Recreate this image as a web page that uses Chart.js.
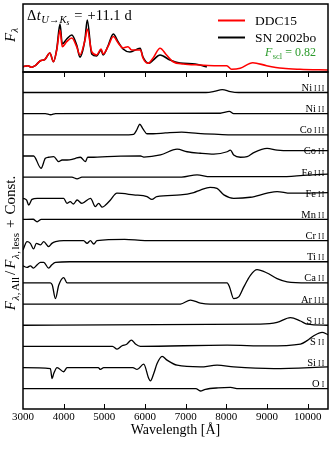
<!DOCTYPE html>
<html>
<head>
<meta charset="utf-8">
<script src="https://cdn.jsdelivr.net/npm/chart.js@4.4.0/dist/chart.umd.min.js"></script>
<style>
  html, body { margin: 0; padding: 0; background: #fff; }
  #wrap { position: relative; width: 332px; height: 450px; }
  canvas { position: absolute; left: 0; top: 0; }
</style>
</head>
<body>
<div id="wrap">
  <canvas id="bottomChart" width="332" height="450"></canvas>
  <canvas id="topChart" width="332" height="450"></canvas>
</div>
<script>
'use strict';

// x axis ticks
const waveTicks = [3000, 4000, 5000, 6000, 7000, 8000, 9000, 10000];

// top panel: model DDC15 vs observed SN 2002bo (arbitrary flux units)
const ddcWave = [3000, 3120, 3210, 3300, 3420, 3540, 3660, 3750, 3830, 3910, 3965, 4075, 4200, 4320, 4400, 4525, 4580, 4690, 4810, 4920, 4970, 5090, 5220, 5340, 5460, 5580, 5670, 5890, 5950, 6070, 6200, 6370, 6530, 6690, 6940, 7350, 7760, 8010, 8130, 8340, 8650, 8990, 9390, 9810, 10500];
const ddcFlux = [5.3, 6.3, 4.7, 6.3, 11, 12.7, 19, 10.3, 22, 42, 25.3, 30.3, 34, 25.3, 17, 32, 43, 20.3, 17, 23, 18, 25.3, 35.5, 29, 24, 25.3, 22, 22, 14, 8.7, 14, 23.7, 17, 10.3, 8, 7, 6.3, 6.3, 2.7, 3.7, 9.3, 6.3, 3.7, 2.7, 2];
const obsWave = [3000, 3120, 3210, 3300, 3420, 3540, 3660, 3750, 3830, 3910, 3965, 4075, 4200, 4320, 4400, 4525, 4580, 4690, 4810, 4920, 4970, 5090, 5220, 5340, 5460, 5630, 5880, 5950, 6100, 6200, 6370, 6615, 6860, 7230, 7400, 7520];
const obsFlux = [5.3, 6.3, 4.7, 6.3, 11, 12.7, 19, 10.3, 23, 48, 28, 33, 37, 27, 15, 33, 52, 18, 16, 22, 17, 26, 38, 30, 23, 20, 23.7, 15, 8.7, 12, 17, 12, 9, 8, 6.5, 5];

// bottom panel: F_all / F_less ratio for each ion, top to bottom
const ionElem  = ['Ni', 'Ni', 'Co', 'Co', 'Fe', 'Fe', 'Mn', 'Cr', 'Ti', 'Ca', 'Ar', 'S', 'S', 'Si', 'O'];
const ionStage = ['III', 'II', 'III', 'II', 'III', 'II', 'II', 'II', 'II', 'II', 'III', 'III', 'II', 'II', 'I'];
const ionConst = [14, 13, 12, 11, 10, 9, 8, 7, 6, 5, 4, 3, 2, 1, 0];

const niIIIWave = [3000, 7500, 7700, 7900, 8100, 8300, 10500];
const niIIIRatio = [1, 1, 1.05, 1.14, 1.04, 1, 1];
const niIIWave = [3000, 3550, 3680, 3800, 7850, 8000, 8075, 8180, 10500];
const niIIRatio = [1, 1, 0.95, 1, 1.02, 1.08, 1.11, 1, 1];
const coIIIWave = [3000, 5600, 5720, 5800, 5870, 5950, 6050, 6200, 6500, 6900, 7300, 7700, 8100, 10500];
const coIIIRatio = [1, 1, 1.02, 1.24, 1.5, 1.28, 1.05, 1.05, 1.09, 1.13, 1.07, 1.03, 1, 1];
const coIIWave = [3000, 3260, 3444, 3550, 3630, 3755, 3878, 3960, 4084, 4207, 4290, 4410, 4534, 4590, 4740, 5070, 5400, 5890, 5970, 6380, 6790, 7035, 7360, 7690, 8020, 8100, 8181, 8345, 8511, 8673, 9002, 9248, 9575, 9986, 10500];
const coIIRatio = [1, 1, 0.42, 0.89, 0.94, 0.97, 0.73, 0.81, 0.81, 0.84, 0.89, 0.94, 0.73, 0.94, 0.94, 0.97, 0.99, 1, 0.95, 1.05, 1.32, 1.2, 1.13, 1.09, 1.2, 1.28, 1.05, 0.94, 0.97, 1.16, 1.36, 1.28, 1.25, 1.25, 1.25];
const feIIIWave = [3000, 4200, 4330, 4450, 6900, 7280, 7600, 9300, 10000, 10500];
const feIIIRatio = [1, 1, 0.92, 1, 1, 1.11, 1.02, 1.02, 1.1, 1.14];
const feIIWave = [3000, 3090, 3140, 3220, 3350, 4000, 4080, 4160, 4240, 4330, 4450, 4660, 4780, 4860, 4950, 5030, 5150, 5310, 5720, 6050, 6170, 6290, 6870, 7200, 7360, 7600, 7770, 7940, 8180, 8590, 9002, 9248, 9575, 10500];
const feIIRatio = [1, 0.91, 0.68, 0.95, 1, 1, 0.76, 0.84, 0.73, 0.92, 0.76, 1, 0.61, 0.76, 0.58, 0.68, 0.92, 1.24, 1.16, 1.08, 0.95, 1.08, 1.16, 1.27, 1.39, 1.52, 1.47, 1.16, 1, 1.05, 1.24, 1.32, 1.24, 1.27];
const mnIIWave = [3000, 3250, 3346, 3450, 10500];
const mnIIRatio = [1, 1.01, 0.89, 1, 1];
const crIIWave = [3000, 3100, 3180, 3260, 3330, 3430, 3510, 3630, 3710, 3800, 4000, 4490, 4575, 4657, 4740, 4820, 5500, 6000, 10500];
const crIIRatio = [0.56, 0.95, 0.87, 0.61, 0.87, 0.8, 0.95, 0.72, 0.87, 0.95, 1, 1, 0.87, 1, 0.84, 1, 1.06, 1, 1];
const tiIIWave = [3000, 3100, 3180, 3260, 3350, 3430, 3510, 3630, 3710, 3800, 4150, 10500];
const tiIIRatio = [0.81, 0.73, 0.81, 0.7, 0.86, 0.97, 0.97, 0.7, 0.86, 0.97, 1, 1];
const caIIWave = [3000, 3674, 3720, 3797, 3880, 4001, 4084, 8019, 8080, 8181, 8304, 8427, 8592, 8755, 9002, 9248, 9494, 10000, 10500];
const caIIRatio = [1, 1, 0.9, 0.26, 0.9, 1.25, 1, 1, 0.8, 0.26, 0.34, 0.8, 1.36, 1.63, 1.47, 1.2, 1.05, 1, 1];
const arIIIWave = [3000, 6870, 7118, 7362, 7600, 10500];
const arIIIRatio = [1, 1, 1.19, 1.05, 1, 1];
const sIIIWave = [3000, 8838, 9248, 9575, 9822, 9986, 10500];
const sIIIRatio = [1, 1.05, 1.13, 1.36, 1.2, 1.05, 1];
const sIIWave = [3000, 5200, 5314, 5437, 5550, 5666, 5765, 5887, 8019, 9000, 9822, 9986, 10150, 10355, 10500];
const sIIRatio = [1, 1, 0.87, 1.03, 1.1, 1.3, 1.11, 1, 1.06, 1.02, 1.11, 1.27, 1.5, 1.66, 1.55];
const siIIWave = [3000, 3674, 3715, 3756, 3838, 4001, 4084, 4850, 4903, 4985, 5700, 5805, 5968, 6092, 6133, 6215, 6297, 6420, 6543, 6789, 7362, 7772, 8181, 9166, 10500];
const siIIRatio = [1, 0.95, 0.48, 0.72, 1, 0.8, 1, 1, 0.91, 1, 1, 0.91, 1.16, 0.48, 0.37, 0.72, 1.19, 1.53, 1.35, 1.11, 1.03, 1.11, 1.03, 0.95, 1.03];
const oIWave = [3000, 7250, 7362, 7485, 7800, 8100, 8300, 10500];
const oIRatio = [1, 1, 0.89, 0.97, 1.04, 1.06, 1, 1];

const ionWaves  = [niIIIWave, niIIWave, coIIIWave, coIIWave, feIIIWave, feIIWave, mnIIWave, crIIWave, tiIIWave, caIIWave, arIIIWave, sIIIWave, sIIWave, siIIWave, oIWave];
const ionRatios = [niIIIRatio, niIIRatio, coIIIRatio, coIIRatio, feIIIRatio, feIIRatio, mnIIRatio, crIIRatio, tiIIRatio, caIIRatio, arIIIRatio, sIIIRatio, sIIRatio, siIIRatio, oIRatio];

const SERIF = '"Liberation Serif", "DejaVu Serif", serif';

function pts(wave, vals, add) {
  return wave.map((w, i) => ({ x: w, y: vals[i] + (add || 0) }));
}

// draw a row of text pieces with own font/offset, returns width
function richText(ctx, x, y, pieces, draw) {
  let cx = x;
  for (const p of pieces) {
    ctx.font = (p.style || '') + ' ' + p.size + 'px ' + SERIF;
    if (draw) ctx.fillText(p.t, cx, y + (p.dy || 0));
    cx += ctx.measureText(p.t).width + (p.gap || 0);
  }
  return cx - x;
}

function rotatedLabel(ctx, cx, cy, pieces) {
  ctx.save();
  ctx.translate(cx, cy);
  ctx.rotate(-Math.PI / 2);
  ctx.fillStyle = '#000';
  ctx.textBaseline = 'alphabetic';
  const w = richText(ctx, 0, 0, pieces, false);
  richText(ctx, -w / 2, 0, pieces, true);
  ctx.restore();
}

//////// top panel ////////
const topPlugin = {
  id: 'topDeco',
  afterDraw(chart) {
    const ctx = chart.ctx;
    const a = chart.chartArea;
    ctx.save();
    ctx.strokeStyle = '#000';
    ctx.lineWidth = 1.5;
    ctx.strokeRect(a.left, a.top, a.right - a.left, a.bottom - a.top);

    // time label
    ctx.fillStyle = '#000';
    ctx.textBaseline = 'alphabetic';
    richText(ctx, 27, 19.5, [
      { t: '\u0394', size: 14.5, gap: 0.5 },
      { t: 't', size: 14.5, style: 'italic', gap: 0.5 },
      { t: 'U', size: 10.5, style: 'italic', dy: 3 },
      { t: '\u2192', size: 10.5, dy: 3 },
      { t: 'K', size: 10.5, style: 'italic', dy: 3 },
      { t: 's', size: 7.5, style: 'italic', dy: 5, gap: 5 },
      { t: '=', size: 14.5, gap: 5 },
      { t: '+11.1', size: 14.5, gap: 4 },
      { t: 'd', size: 14.5 }
    ], true);

    // legend
    const ds = chart.data.datasets;
    const rows = [20.5, 37.5];
    ds.forEach((d, i) => {
      ctx.strokeStyle = d.borderColor;
      ctx.lineWidth = 2;
      ctx.beginPath();
      ctx.moveTo(218, rows[i]);
      ctx.lineTo(245, rows[i]);
      ctx.stroke();
      ctx.fillStyle = '#000';
      ctx.font = '13.5px ' + SERIF;
      ctx.fillText(d.label, 255, rows[i] + 4.5);
    });

    ctx.fillStyle = '#2a9a2a';
    const scl = [
      { t: 'F', size: 12, style: 'italic', gap: 0.5 },
      { t: 'scl', size: 8.5, dy: 2.5, gap: 3 },
      { t: '=', size: 12, gap: 3 },
      { t: '0.82', size: 12 }
    ];
    const w = richText(ctx, 0, 0, scl, false);
    richText(ctx, 316 - w, 56, scl, true);

    rotatedLabel(ctx, 14.5, 35, [
      { t: 'F', size: 15, style: 'italic', gap: 0.5 },
      { t: '\u03bb', size: 10.5, style: 'italic', dy: 3.5 }
    ]);
    ctx.restore();
  }
};

new Chart(document.getElementById('topChart'), {
  type: 'line',
  data: {
    datasets: [
      { label: 'DDC15', data: pts(ddcWave, ddcFlux), borderColor: '#ff0000', borderWidth: 1.6 },
      { label: 'SN 2002bo', data: pts(obsWave, obsFlux), borderColor: '#000000', borderWidth: 1.6 }
    ]
  },
  options: {
    responsive: false,
    animation: false,
    devicePixelRatio: 1,
    layout: { padding: { left: 23, right: 4, top: 4, bottom: 378 } },
    elements: { point: { radius: 0 }, line: { cubicInterpolationMode: 'monotone', fill: false } },
    plugins: { legend: { display: false }, tooltip: { enabled: false } },
    scales: {
      x: { type: 'linear', min: 3000, max: 10500, display: false },
      y: { type: 'linear', min: 0, max: 68, display: false }
    }
  },
  plugins: [topPlugin]
});

//////// bottom panel ////////
const bottomPlugin = {
  id: 'bottomDeco',
  afterDraw(chart) {
    const ctx = chart.ctx;
    const a = chart.chartArea;
    const xs = chart.scales.x;
    const ys = chart.scales.y;
    ctx.save();
    ctx.strokeStyle = '#000';
    ctx.lineWidth = 1.5;
    ctx.strokeRect(a.left, a.top, a.right - a.left, a.bottom - a.top);
    // inward ticks on top and bottom edges
    ctx.lineWidth = 1;
    waveTicks.forEach(v => {
      if (v <= xs.min) return;
      const px = Math.round(xs.getPixelForValue(v)) + 0.5;
      ctx.beginPath();
      ctx.moveTo(px, a.top); ctx.lineTo(px, a.top + 5);
      ctx.moveTo(px, a.bottom); ctx.lineTo(px, a.bottom - 5);
      ctx.stroke();
    });

    // ion labels
    ctx.fillStyle = '#000';
    ctx.textBaseline = 'alphabetic';
    ionElem.forEach((el, i) => {
      const y = ys.getPixelForValue(ionConst[i] + 1) - 1.5;
      ctx.font = '7.5px ' + SERIF;
      ctx.letterSpacing = '1.3px';
      const sw = ctx.measureText(ionStage[i]).width;
      ctx.fillText(ionStage[i], a.right - 2.5 - sw, y);
      ctx.letterSpacing = '0px';
      ctx.font = '10.5px ' + SERIF;
      const ew = ctx.measureText(el).width;
      ctx.fillText(el, a.right - 2.5 - sw - 2 - ew, y);
    });

    rotatedLabel(ctx, 15, 243, [
      { t: 'F', size: 15, style: 'italic', gap: 0.5 },
      { t: '\u03bb', size: 11, style: 'italic', dy: 3.5, gap: 0.5 },
      { t: ',', size: 11, dy: 3.5, gap: 1.5 },
      { t: 'All', size: 11, dy: 3.5, gap: 2 },
      { t: '/', size: 15, gap: 2 },
      { t: 'F', size: 15, style: 'italic', gap: 0.5 },
      { t: '\u03bb', size: 11, style: 'italic', dy: 3.5, gap: 0.5 },
      { t: ',', size: 11, dy: 3.5, gap: 1.5 },
      { t: 'less', size: 11, dy: 3.5, gap: 5 },
      { t: '+', size: 15, gap: 5 },
      { t: 'Const.', size: 15 }
    ]);
    ctx.restore();
  }
};

new Chart(document.getElementById('bottomChart'), {
  type: 'line',
  data: {
    datasets: ionElem.map((el, i) => ({
      label: el + ' ' + ionStage[i],
      data: pts(ionWaves[i], ionRatios[i], ionConst[i]),
      borderColor: '#000000',
      borderWidth: 1.3
    }))
  },
  options: {
    responsive: false,
    animation: false,
    devicePixelRatio: 1,
    layout: { padding: { left: 23, right: 4, top: 72, bottom: 0 } },
    elements: { point: { radius: 0 }, line: { cubicInterpolationMode: 'monotone', fill: false } },
    plugins: { legend: { display: false }, tooltip: { enabled: false } },
    scales: {
      x: {
        type: 'linear', min: 3000, max: 10500, position: 'bottom',
        afterBuildTicks: s => { s.ticks = waveTicks.map(v => ({ value: v })); },
        afterFit: s => { s.height = 41; },
        grid: { display: false, drawTicks: false },
        border: { display: false },
        ticks: {
          color: '#000', padding: 2, maxRotation: 0, autoSkip: false,
          font: { family: SERIF, size: 11 },
          callback: v => String(v)
        },
        title: {
          display: true, text: 'Wavelength [\u00c5]', color: '#000',
          font: { family: SERIF, size: 14, lineHeight: 1.2 },
          padding: { top: 0, bottom: 11 }
        }
      },
      y: { type: 'linear', min: 0.04, max: 15.97, display: false }
    }
  },
  plugins: [bottomPlugin]
});
</script>
</body>
</html>
